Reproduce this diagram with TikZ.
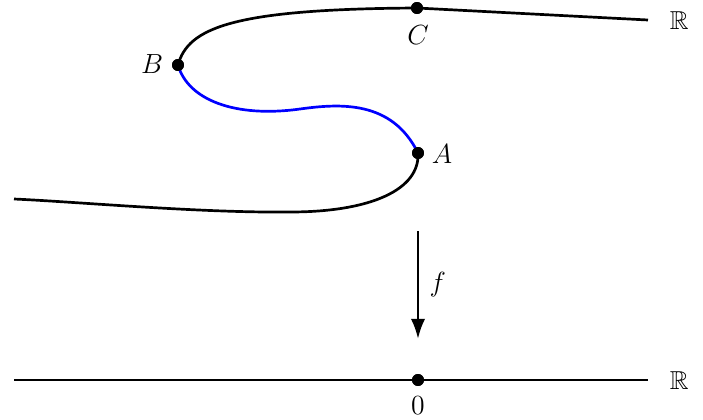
\documentclass[tikz,border=0pt]{standalone}
\usepackage{amsmath,amssymb}
\usetikzlibrary{arrows.meta}
\definecolor{Curve}{RGB}{ 0, 0, 0 }
\definecolor{Branch}{RGB}{ 0, 0, 255 }
\tikzset{
    pt/.style={circle, fill=black, inner sep=0pt, minimum size=6.2pt},
    curve/.style={Curve, line width=1.4pt},
    lbl/.style={font=\fontsize{13.5}{16}\selectfont},
}

\begin{document}
\begin{tikzpicture}[x=0.52pt, y=-0.52pt]
\useasboundingbox (0,0) rectangle (703,419);

% upper line
\node[pt] (B) at (178,65) {};
\node[pt] (C) at (417,8) {};
\node[pt] (A) at (418,153) {};
\coordinate (mid) at (300,109);
\coordinate (low) at (290,212);
\coordinate (top-end) at (648,20);
\coordinate (left-end) at (14,199);

\draw[curve] (B.center) .. controls (188,28) and (232,9) .. (C.center) -- (top-end);
\draw[Branch, line width=1.4pt] (B.center) .. controls (188,100) and (235,118) .. (mid)
    .. controls (340,103.5) and (392,100) .. (A.center);
\draw[curve] (A.center) .. controls (420,190) and (370,212) .. (low)
    .. controls (200,213) and (80,202) .. (left-end);
\node[pt] at (B) {};
\node[pt] at (C) {};
\node[pt] at (A) {};

\node[lbl, anchor=east] (lB) at (170,64) {$B$};
\node[lbl] (lC) at (418,35) {$C$};
\node[lbl, anchor=west] (lA) at (425,154) {$A$};
\node[lbl, anchor=west] (R1) at (663,21) {$\mathbb{R}$};

% the map
\coordinate (f-top) at (418,231);
\coordinate (f-bot) at (418,339);
\draw[line width=1.4pt, -{Latex[length=10.5pt, width=7.5pt]}] (f-top) -- (f-bot)
    node[lbl, midway, right=2pt] (lf) {$f$};

% lower line
\node[pt] (zero) at (418,380) {};
\coordinate (bot-left) at (14,380);
\coordinate (bot-right) at (648,380);
\draw[curve] (bot-left) -- (bot-right);
\node[pt] at (zero) {};
\node[lbl] (l0) at (418,406) {$0$};
\node[lbl, anchor=west] (R2) at (663,381) {$\mathbb{R}$};
\end{tikzpicture}
\end{document}
